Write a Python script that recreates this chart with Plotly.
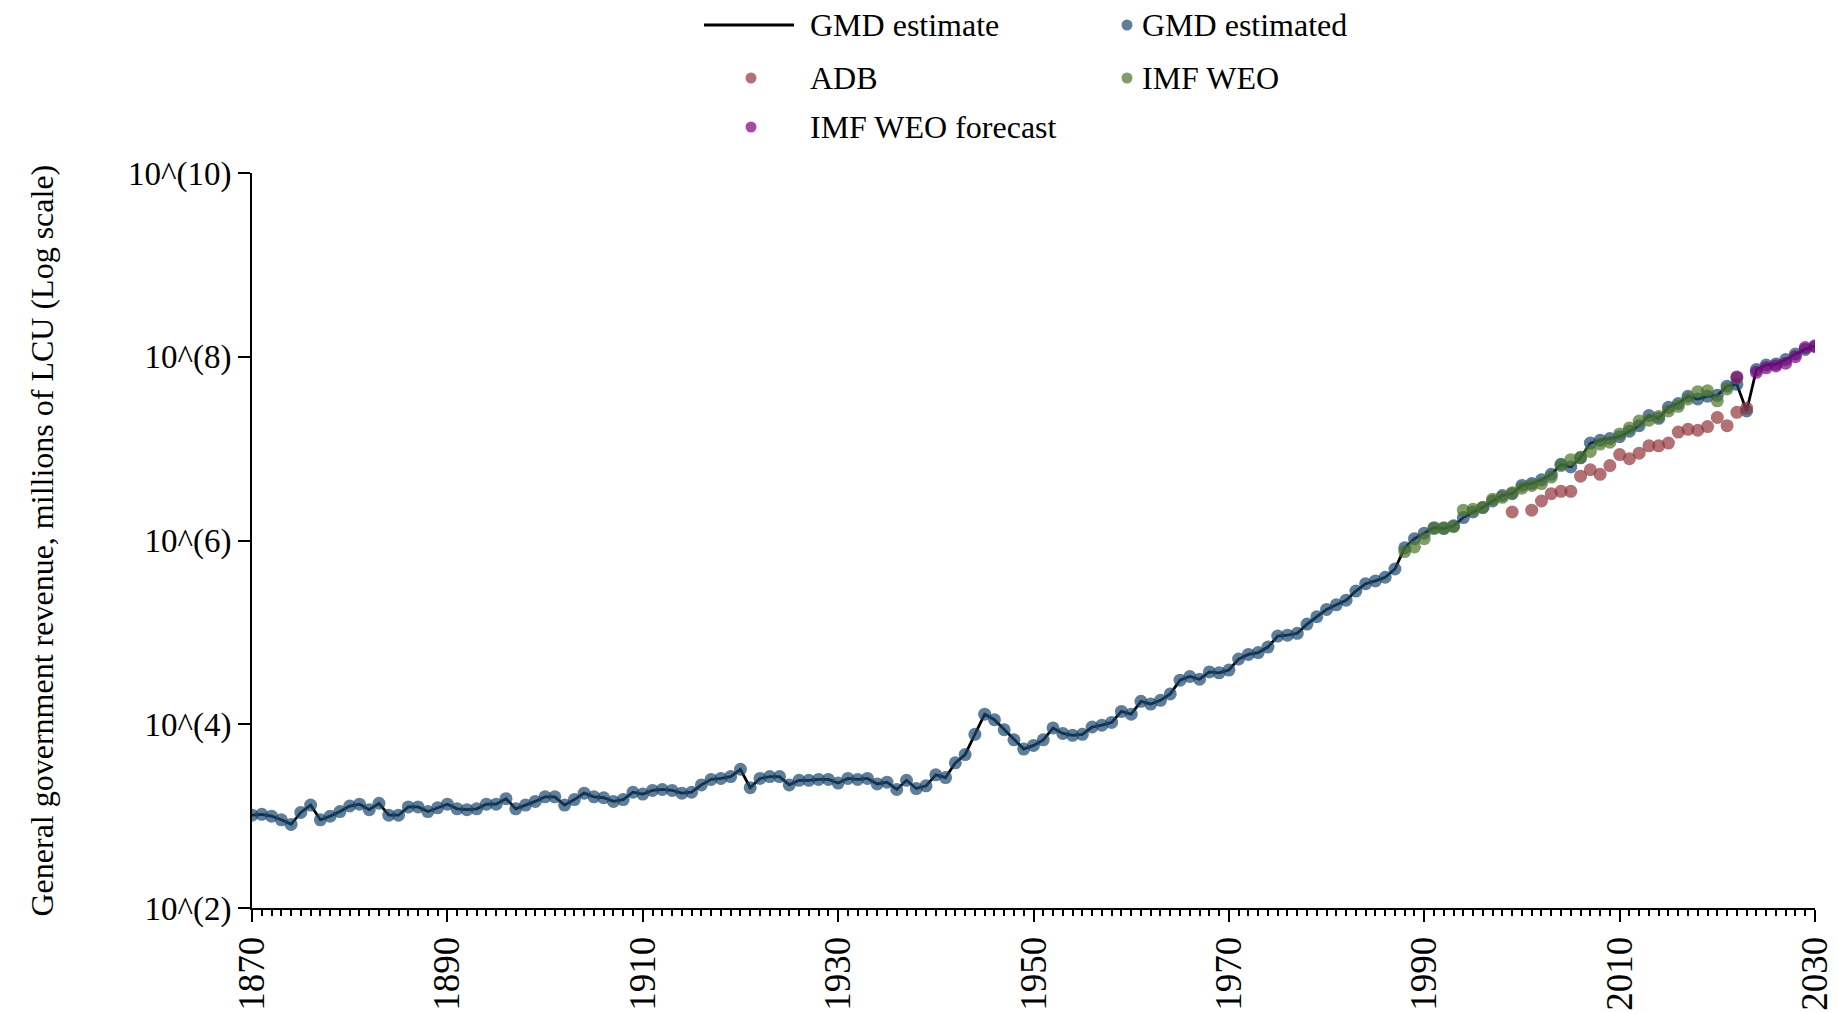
import plotly.graph_objects as go

# ---------------- data (log10 of millions of LCU) ----------------
gmd_years = list(range(1870, 2031))
gmd_log10 = [
    3.01, 3.02, 3.00, 2.96, 2.91, 3.04, 3.12, 2.96, 3.00, 3.05,   # 1870-1879
    3.11, 3.13, 3.07, 3.14, 3.01, 3.01, 3.10, 3.10, 3.05, 3.09,   # 1880-1889
    3.13, 3.08, 3.07, 3.08, 3.13, 3.13, 3.19, 3.08, 3.12, 3.16,   # 1890-1899
    3.21, 3.21, 3.12, 3.18, 3.25, 3.21, 3.20, 3.16, 3.18, 3.26,   # 1900-1909
    3.24, 3.28, 3.29, 3.28, 3.25, 3.26, 3.34, 3.40, 3.41, 3.43,   # 1910-1919
    3.51, 3.31, 3.41, 3.43, 3.43, 3.34, 3.39, 3.39, 3.40, 3.40,   # 1920-1929
    3.36, 3.41, 3.40, 3.41, 3.35, 3.37, 3.29, 3.39, 3.30, 3.33,   # 1930-1939
    3.45, 3.42, 3.58, 3.67, 3.89, 4.11, 4.05, 3.94, 3.83, 3.73,   # 1940-1949
    3.77, 3.83, 3.96, 3.90, 3.88, 3.89, 3.97, 3.99, 4.02, 4.14,   # 1950-1959
    4.11, 4.25, 4.22, 4.26, 4.33, 4.48, 4.52, 4.49, 4.57, 4.56,   # 1960-1969
    4.59, 4.71, 4.76, 4.78, 4.84, 4.96, 4.97, 4.99, 5.09, 5.17,   # 1970-1979
    5.25, 5.30, 5.35, 5.45, 5.53, 5.56, 5.60, 5.69, 5.92, 6.02,   # 1980-1989
    6.08, 6.14, 6.13, 6.16, 6.25, 6.31, 6.36, 6.43, 6.49, 6.51,   # 1990-1999
    6.60, 6.62, 6.66, 6.72, 6.83, 6.80, 6.90, 7.06, 7.09, 7.11,   # 2000-2009
    7.13, 7.19, 7.25, 7.36, 7.33, 7.45, 7.49, 7.57, 7.54, 7.57,   # 2010-2019
    7.58, 7.68, 7.70, 7.41, 7.86, 7.91, 7.92, 7.97, 8.03, 8.08,   # 2020-2029
    8.12,                                                         # 2030
]

adb_years = [1999, 2001, 2002, 2003, 2004, 2005, 2006, 2007, 2008, 2009, 2010, 2011,
             2012, 2013, 2014, 2015, 2016, 2017, 2018, 2019, 2020, 2021, 2022, 2023]
adb_log10 = [6.31, 6.33, 6.43, 6.51, 6.535, 6.535, 6.70, 6.77, 6.72, 6.815, 6.935, 6.89,
             6.95, 7.03, 7.03, 7.06, 7.18, 7.21, 7.20, 7.24, 7.34, 7.25, 7.395, 7.44]

weo_years = list(range(1988, 2023))
weo_log10 = [5.88, 5.93, 6.02, 6.13, 6.14, 6.15, 6.33, 6.34, 6.36, 6.45,   # 1988-1997
             6.47, 6.52, 6.57, 6.60, 6.62, 6.69, 6.815, 6.88, 6.905, 6.97,  # 1998-2007
             7.05, 7.07, 7.16, 7.225, 7.30, 7.31, 7.35, 7.41, 7.46, 7.54,   # 2008-2017
             7.62, 7.63, 7.52, 7.65, 7.77]                                  # 2018-2022

fc_years = [2022, 2024, 2025, 2026, 2027, 2028, 2029, 2030]
fc_log10 = [7.78, 7.83, 7.88, 7.90, 7.93, 8.00, 8.10, 8.11]

y_tick_exponents = [2, 4, 6, 8, 10]
x_tick_years = [1870, 1890, 1910, 1930, 1950, 1970, 1990, 2010, 2030]

legend_labels = ["GMD estimate", "GMD estimated", "ADB", "IMF WEO", "IMF WEO forecast"]

# ---------------- styles ----------------
FONT = "Liberation Serif"
C_BLUE = "rgba(26,71,111,0.70)"
C_RED = "rgba(144,53,59,0.70)"
C_GREEN = "rgba(75,115,40,0.70)"
C_PURPLE = "rgba(128,0,128,0.70)"
MS = 13

def to_val(logs):
    return [10 ** v for v in logs]

fig = go.Figure()
fig.add_trace(go.Scatter(x=gmd_years, y=to_val(gmd_log10), mode="lines",
                         line=dict(color="black", width=2.8), name=legend_labels[0]))
fig.add_trace(go.Scatter(x=gmd_years, y=to_val(gmd_log10), mode="markers",
                         marker=dict(color=C_BLUE, size=MS), name=legend_labels[1]))
fig.add_trace(go.Scatter(x=adb_years, y=to_val(adb_log10), mode="markers",
                         marker=dict(color=C_RED, size=MS), name=legend_labels[2]))
fig.add_trace(go.Scatter(x=weo_years, y=to_val(weo_log10), mode="markers",
                         marker=dict(color=C_GREEN, size=MS), name=legend_labels[3]))
fig.add_trace(go.Scatter(x=fc_years, y=to_val(fc_log10), mode="markers",
                         marker=dict(color=C_PURPLE, size=MS), name=legend_labels[4]))

W, H = 1837, 1013
L, R, T, B = 252, 22, 173, 105
PW, PH = W - L - R, H - T - B

def px_x(x):
    return (x - L) / PW

def px_y(y):
    return (H - B - y) / PH

shapes = []
annotations = []

# manual legend (two columns)
legend_items = [
    # label, kind, color, symbol x, text x, row y
    (legend_labels[0], "line", "black", 749, 808, 25),
    (legend_labels[1], "dot", C_BLUE, 1127, 1140, 25),
    (legend_labels[2], "dot", C_RED, 751, 808, 78),
    (legend_labels[3], "dot", C_GREEN, 1127, 1140, 78),
    (legend_labels[4], "dot", C_PURPLE, 751, 808, 127),
]
for label, kind, color, sx, tx, ry in legend_items:
    if kind == "line":
        shapes.append(dict(type="line", xref="paper", yref="paper",
                           x0=px_x(704), x1=px_x(794), y0=px_y(ry), y1=px_y(ry),
                           line=dict(color=color, width=2.8)))
    else:
        shapes.append(dict(type="circle", xref="paper", yref="paper",
                           xsizemode="pixel", ysizemode="pixel",
                           xanchor=px_x(sx), yanchor=px_y(ry),
                           x0=-5.5, x1=5.5, y0=-5.5, y1=5.5,
                           fillcolor=color, line=dict(width=0)))
    annotations.append(dict(text=label, xref="paper", yref="paper",
                            x=px_x(tx), y=px_y(ry), xanchor="left", yanchor="middle",
                            showarrow=False, font=dict(family=FONT, size=32, color="black")))

# y-axis title
annotations.append(dict(text="General government revenue, millions of LCU (Log scale)",
                        xref="paper", yref="paper", x=px_x(41), y=0.5,
                        xanchor="center", yanchor="middle", textangle=-90,
                        showarrow=False, font=dict(family=FONT, size=32, color="black")))

fig.update_layout(
    width=W, height=H,
    margin=dict(l=L, r=R, t=T, b=B, autoexpand=False),
    paper_bgcolor="white", plot_bgcolor="white",
    showlegend=False,
    font=dict(family=FONT, size=32, color="black"),
    shapes=shapes, annotations=annotations,
)
fig.update_xaxes(
    range=[1870, 2030], tickmode="array", tickvals=x_tick_years,
    ticktext=[str(v) for v in x_tick_years], tickangle=-90,
    ticks="outside", ticklen=12, tickwidth=2, tickcolor="black",
    showline=True, linecolor="black", linewidth=2, showgrid=False, zeroline=False,
    tickfont=dict(family=FONT, size=37, color="black"),
    minor=dict(dtick=1, ticks="outside", ticklen=6, tickwidth=1.5, tickcolor="black", showgrid=False),
)
fig.update_yaxes(
    type="log", range=[2, 10], tickmode="array",
    tickvals=[10 ** e for e in y_tick_exponents],
    ticktext=["10^(%d)" % e for e in y_tick_exponents],
    ticks="outside", ticklen=12, tickwidth=2, tickcolor="black",
    showline=True, linecolor="black", linewidth=2, showgrid=False, zeroline=False,
    tickfont=dict(family=FONT, size=33, color="black"),
)

fig.write_html("out.html", config={"displayModeBar": False},
               post_script="document.body.style.margin='0';document.body.style.overflow='hidden';")
